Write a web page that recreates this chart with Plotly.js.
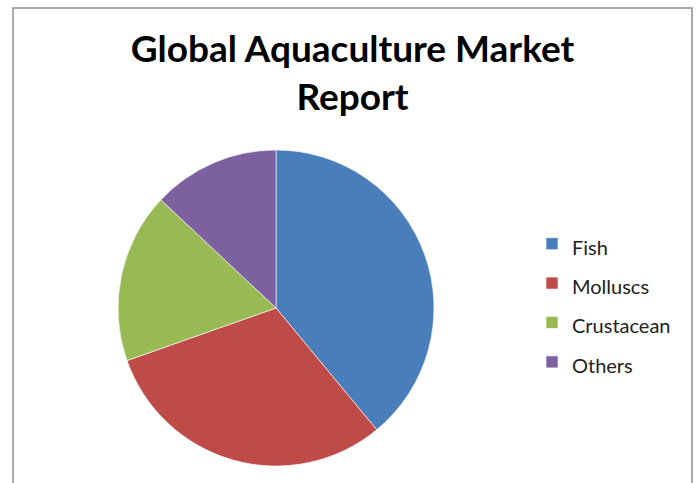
<!DOCTYPE html>
<html>
<head>
<meta charset="utf-8">
<script src="https://cdn.plot.ly/plotly-3.0.1.min.js"></script>
<style>html,body{margin:0;padding:0;background:#fff;}#chart{width:697px;height:483px;}</style>
</head>
<body>
<div id="chart"></div>
<script>
const categories = ["Fish", "Molluscs", "Crustacean", "Others"];
const shares = [39.0, 30.6, 17.4, 13.0];
const colors = ["#4A7EBB", "#BE4B48", "#98B954", "#7D60A0"];
const chartTitle = "Global Aquaculture Market<br>Report";

const W = 697, H = 483;
const cx = 276, cy = 308, r = 158;

const trace = {
  type: "pie",
  labels: categories.map(c => '<span style="font-size:20px">' + c + '</span>'),
  values: shares,
  sort: false,
  direction: "clockwise",
  rotation: 0,
  textinfo: "none",
  hoverinfo: "label+percent",
  marker: { colors: colors, line: { color: "rgba(255,255,255,0.6)", width: 1 } },
  domain: {
    x: [(cx - r) / W, (cx + r) / W],
    y: [(H - cy - r) / H, (H - cy + r) / H]
  }
};

const layout = {
  width: W, height: H,
  margin: { l: 0, r: 0, t: 0, b: 0 },
  paper_bgcolor: "#ffffff",
  font: { family: "Lato, 'Open Sans', sans-serif", color: "#000" },
  title: {
    text: chartTitle,
    font: { family: "Lato", size: 37, color: "#000", weight: "bold" },
    x: 352.5 / W, xanchor: "center",
    y: 1 - 62 / H, yanchor: "top",
    xref: "paper", yref: "container"
  },
  showlegend: true,
  legend: {
    x: 532 / W, xanchor: "left",
    y: (H - 219) / H, yanchor: "top",
    font: { family: "Lato", size: 28, color: "#222" },
    bgcolor: "rgba(0,0,0,0)",
    borderwidth: 0
  },
  shapes: [{
    type: "rect", xref: "paper", yref: "paper",
    x0: 13 / W, x1: 692 / W, y0: -0.2, y1: (H - 8) / H,
    line: { color: "#8E8E8E", width: 1.5 }, fillcolor: "rgba(0,0,0,0)"
  }]
};

Plotly.newPlot("chart", [trace], layout, { displayModeBar: false, staticPlot: true });
</script>
</body>
</html>
